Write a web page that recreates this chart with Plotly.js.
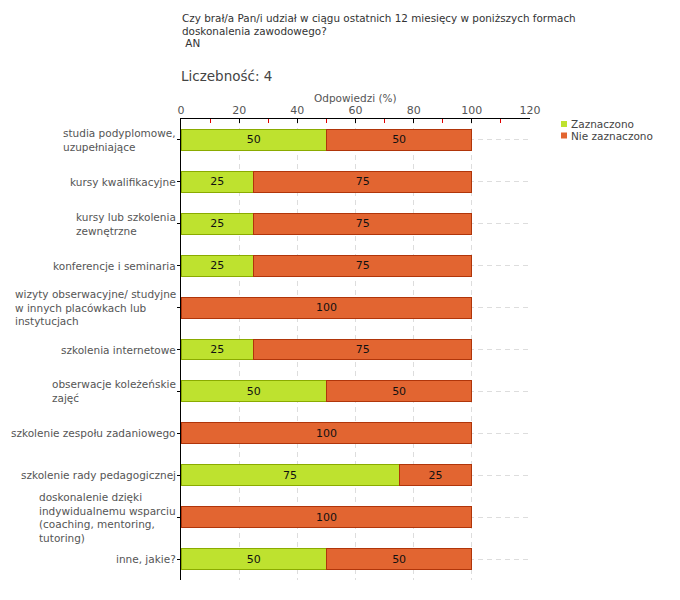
<!DOCTYPE html>
<html>
<head>
<meta charset="utf-8">
<script src="https://cdn.plot.ly/plotly-3.0.1.min.js"></script>
<style>html,body{margin:0;padding:0;background:#fff;}#chart{width:680px;height:600px;}</style>
</head>
<body>
<div id="chart"></div>
<script>
const categories = [
  "studia podyplomowe,<br>uzupełniające",
  "kursy kwalifikacyjne",
  "kursy lub szkolenia<br>zewnętrzne",
  "konferencje i seminaria",
  "wizyty obserwacyjne/ studyjne<br>w innych placówkach lub<br>instytucjach",
  "szkolenia internetowe",
  "obserwacje koleżeńskie<br>zajęć",
  "szkolenie zespołu zadaniowego",
  "szkolenie rady pedagogicznej",
  "doskonalenie dzięki<br>indywidualnemu wsparciu<br>(coaching, mentoring,<br>tutoring)",
  "inne, jakie?"
];
const zaznaczono = [50, 25, 25, 25, 0, 25, 50, 0, 75, 0, 50];
const nieZaznaczono = [50, 75, 75, 75, 100, 75, 50, 100, 25, 100, 50];
const seriesNames = ["Zaznaczono", "Nie zaznaczono"];
const seriesColors = ["#bee22f", "#e26531"];
const seriesLines = ["#8aab00", "#b0350a"];
const xTicks = [0, 20, 40, 60, 80, 100, 120];
const titleLines = ["Czy brał/a Pan/i udział w ciągu ostatnich 12 miesięcy w poniższych formach", "doskonalenia zawodowego?", " AN"];
const countText = "Liczebność: 4";
const axisTitle = "Odpowiedzi (%)";

const idx = categories.map((c, i) => i);
const font = "DejaVu Sans, Verdana, sans-serif";

const series = [zaznaczono, nieZaznaczono];
const traces = series.map((vals, s) => ({
  type: 'bar', orientation: 'h', name: seriesNames[s],
  y: idx, x: vals,
  text: vals.map(v => v ? String(v) : ''),
  textposition: 'inside', insidetextanchor: 'middle', textangle: 0,
  textfont: {family: font, size: 11, color: '#111'},
  marker: {color: seriesColors[s], line: {color: seriesLines[s], width: 1}},
  width: 0.5, hoverinfo: 'none', showlegend: false
}));

const W = 349, H = 461, L = 181, T = 119;
const px = x => (x - L) / W;
const py = y => 1 + (T - y) / H;

const annotations = [];
const shapes = [];
categories.forEach((c, i) => {
  annotations.push({
    xref: 'paper', yref: 'y', x: 0, y: i, xanchor: 'right', yanchor: 'middle',
    xshift: -3, text: c, align: 'left', showarrow: false,
    font: {family: font, size: 10.5, color: '#555'}
  });
});
const titleY = [18, 30.5, 43];
titleLines.forEach((t, i) => {
  annotations.push({
    xref: 'paper', yref: 'paper', x: 0, y: py(titleY[i]),
    xanchor: 'left', yanchor: 'middle', text: t, showarrow: false,
    font: {family: font, size: 10.4, color: '#333'}, xshift: -1
  });
});
annotations.push({
  xref: 'paper', yref: 'paper', x: 0, y: py(76),
  xanchor: 'left', yanchor: 'middle', text: countText, showarrow: false,
  font: {family: font, size: 13.5, color: '#444'}, xshift: -2
});
annotations.push({
  xref: 'paper', yref: 'paper', x: 0.5, y: py(98),
  xanchor: 'center', yanchor: 'middle', text: axisTitle, showarrow: false,
  font: {family: font, size: 10.5, color: '#555'}
});
// legend
seriesNames.forEach((n, s) => {
  const cy = 124 + s * 11.5;
  shapes.push({type: 'rect', xref: 'paper', yref: 'paper', layer: 'above',
    x0: px(561), x1: px(567), y0: py(cy - 3), y1: py(cy + 3),
    fillcolor: seriesColors[s], line: {width: 0}});
  annotations.push({xref: 'paper', yref: 'paper', x: px(569), y: py(cy),
    xanchor: 'left', yanchor: 'middle', text: n, showarrow: false,
    font: {family: font, size: 10.5, color: '#444'}});
});

const layout = {
  width: 680, height: 600,
  margin: {l: L, r: 680 - L - W, t: T, b: 600 - T - H, pad: 0},
  paper_bgcolor: '#fff', plot_bgcolor: '#fff',
  barmode: 'stack', bargap: 0.5,
  showlegend: false,
  xaxis: {
    side: 'top', range: [0, 120], tickvals: xTicks, ticktext: xTicks.map(String),
    showline: true, linecolor: '#000', linewidth: 1,
    ticks: 'inside', ticklen: 4, tickcolor: '#000',
    showgrid: true, gridcolor: '#dddddd', griddash: '5px,4px', gridwidth: 1,
    zeroline: false,
    tickfont: {family: font, size: 11, color: '#555'},
    minor: {dtick: 10, tick0: 0, ticks: 'inside', ticklen: 4, tickcolor: '#e00000', showgrid: false},
    fixedrange: true
  },
  yaxis: {
    range: [10.5, -0.5], tickvals: idx, showticklabels: false,
    showline: true, linecolor: '#000', linewidth: 1,
    ticks: 'outside', ticklen: 3, tickcolor: '#000',
    showgrid: true, gridcolor: '#dddddd', griddash: '5px,4px', gridwidth: 1,
    zeroline: false, fixedrange: true
  },
  annotations: annotations,
  shapes: shapes,
  font: {family: font}
};

Plotly.newPlot('chart', traces, layout, {displayModeBar: false, staticPlot: true});
</script>
</body>
</html>
